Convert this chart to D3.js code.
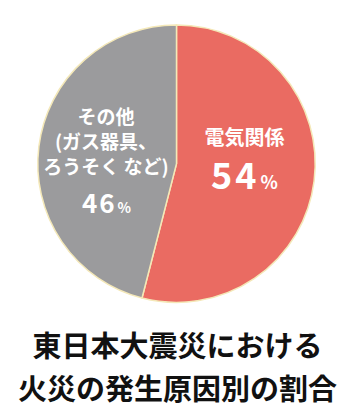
<!DOCTYPE html>
<html>
<head>
<meta charset="utf-8">
<script src="https://cdn.jsdelivr.net/npm/d3@7"></script>
<style>
  body { margin: 0; background: #fff; }
  text { font-family: "Noto Sans CJK JP", sans-serif; font-weight: bold; }
</style>
</head>
<body>
<div id="chart"></div>
<script>
// data
const categories = ["電気関係", "その他"];
const values = [54, 46];
const colors = ["#EA6B62", "#9B9B9D"];
const labelLines = [["電気関係"], ["その他", "(ガス器具、", "ろうそく など)"]];
const titleLines = ["東日本大震災における", "火災の発生原因別の割合"];

const width = 353, height = 417;
const cx = 176.5, cy = 163.7, radius = 138.7;

const svg = d3.select("#chart").append("svg")
  .attr("width", width)
  .attr("height", height);

const pie = d3.pie().sort(null).value(d => d);
const arc = d3.arc().innerRadius(0).outerRadius(radius);

const g = svg.append("g").attr("transform", `translate(${cx},${cy})`);

g.selectAll("path")
  .data(pie(values))
  .join("path")
  .attr("d", arc)
  .attr("fill", (d, i) => colors[i])
  .attr("stroke", "#F4E8B8")
  .attr("stroke-width", 1.5);

// red slice label
g.append("text")
  .attr("fill", "#fff").attr("text-anchor", "middle")
  .attr("x", 68).attr("y", -19).attr("font-size", 20)
  .text(labelLines[0][0]);
const pct1 = g.append("text")
  .attr("fill", "#fff").attr("text-anchor", "middle")
  .attr("x", 68).attr("y", 25);
pct1.append("tspan").attr("font-size", 36).attr("letter-spacing", 3).text(values[0]);
pct1.append("tspan").attr("font-size", 18).attr("dx", 1).text("%");

// gray slice label
g.append("g").selectAll("text")
  .data(labelLines[1])
  .join("text")
  .attr("fill", "#fff").attr("text-anchor", "middle")
  .attr("x", -70.5).attr("y", (d, i) => -40 + i * 25)
  .attr("font-size", 19)
  .text(d => d);
const pct2 = g.append("text")
  .attr("fill", "#fff").attr("text-anchor", "middle")
  .attr("x", -70).attr("y", 49);
pct2.append("tspan").attr("font-size", 26).attr("letter-spacing", 2).text(values[1]);
pct2.append("tspan").attr("font-size", 14).attr("dx", 1).text("%");

// title
svg.append("g").selectAll("text")
  .data(titleLines)
  .join("text")
  .attr("x", width / 2 + 1)
  .attr("y", (d, i) => 357 + i * 43)
  .attr("text-anchor", "middle")
  .attr("font-size", 29)
  .attr("fill", "#111")
  .text(d => d);
</script>
</body>
</html>
